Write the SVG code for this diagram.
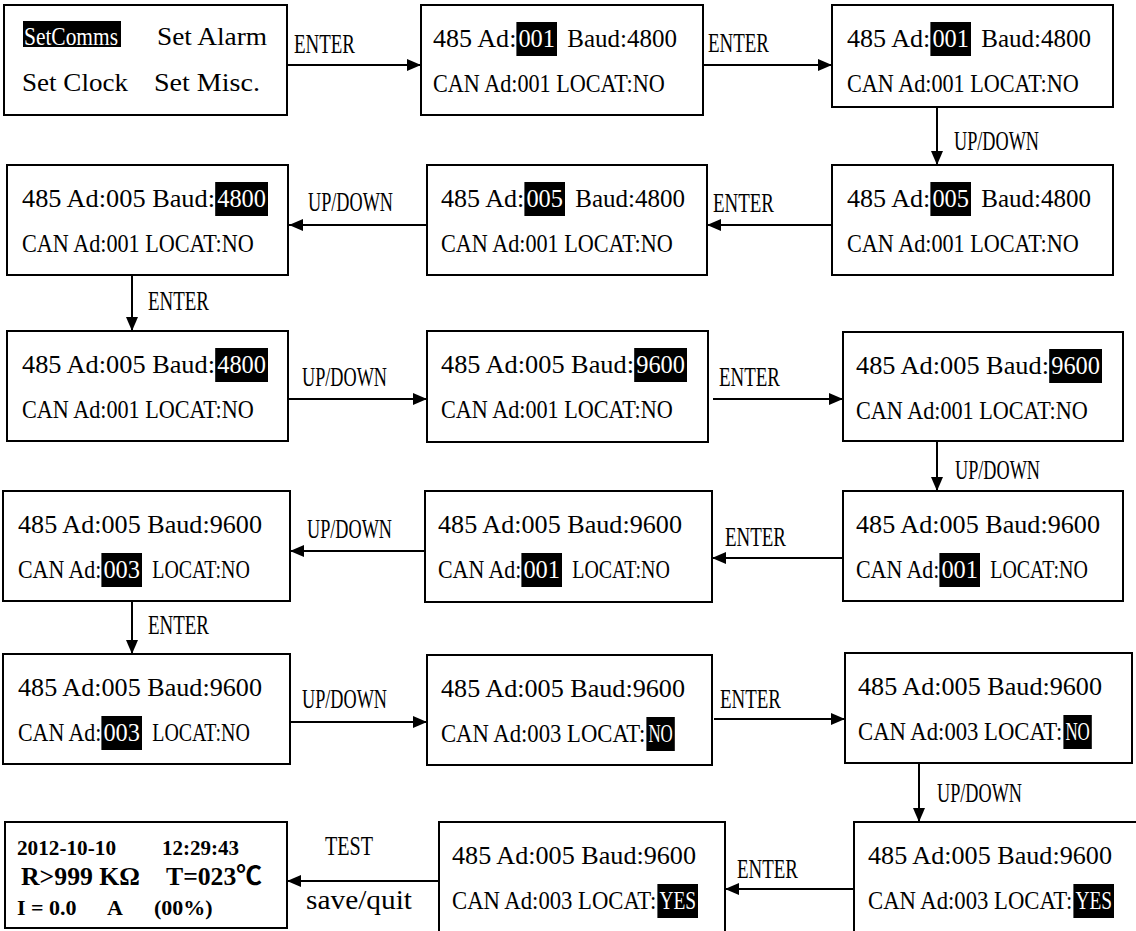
<svg xmlns="http://www.w3.org/2000/svg" width="1136" height="931" viewBox="0 0 1136 931">
<style>
.box{fill:#fff;stroke:#000;stroke-width:2}
.t{font-family:"Liberation Serif",serif;font-size:21.5px;fill:#000}
.m{font-family:"Liberation Serif",serif;font-size:25px;fill:#000}
.w{fill:#fff}
.hl{fill:#000}
.lbl{font-family:"Liberation Serif",serif;font-size:27px;fill:#000}
.b{font-family:"Liberation Serif","Noto Sans CJK SC",serif;font-weight:bold;fill:#000}
.c{stroke:#000;stroke-width:2;fill:none;marker-end:url(#ah)}
</style>
<defs>
<marker id="ah" markerUnits="userSpaceOnUse" markerWidth="14" markerHeight="12" refX="14" refY="6" orient="auto">
<path d="M0,0 L14,6 L0,12 z" fill="#000"/>
</marker>
</defs>
<rect width="1136" height="931" fill="#fff"/>

<g id="connectors">
<line class="c" x1="287" y1="65" x2="421" y2="65"/>
<line class="c" x1="703" y1="65" x2="832" y2="65"/>
<line class="c" x1="937" y1="107" x2="937" y2="165"/>
<line class="c" x1="832" y1="225" x2="707" y2="225"/>
<line class="c" x1="427" y1="225" x2="289" y2="225"/>
<line class="c" x1="132" y1="275" x2="132" y2="331"/>
<line class="c" x1="288" y1="399" x2="427" y2="399"/>
<line class="c" x1="713" y1="399" x2="843" y2="399"/>
<line class="c" x1="937" y1="441" x2="937" y2="491"/>
<line class="c" x1="843" y1="558" x2="712" y2="558"/>
<line class="c" x1="425" y1="551" x2="290" y2="551"/>
<line class="c" x1="132" y1="601" x2="132" y2="654"/>
<line class="c" x1="290" y1="722" x2="427" y2="722"/>
<line class="c" x1="714" y1="719" x2="845" y2="719"/>
<line class="c" x1="919" y1="763" x2="919" y2="822"/>
<line class="c" x1="854" y1="889" x2="725" y2="889"/>
<line class="c" x1="439" y1="881" x2="287" y2="881"/>
<text class="lbl" x="294" y="53" textLength="61" lengthAdjust="spacingAndGlyphs">ENTER</text>
<text class="lbl" x="708" y="52" textLength="61" lengthAdjust="spacingAndGlyphs">ENTER</text>
<text class="lbl" x="954" y="150" textLength="85" lengthAdjust="spacingAndGlyphs">UP/DOWN</text>
<text class="lbl" x="713" y="212" textLength="61" lengthAdjust="spacingAndGlyphs">ENTER</text>
<text class="lbl" x="308" y="211" textLength="85" lengthAdjust="spacingAndGlyphs">UP/DOWN</text>
<text class="lbl" x="148" y="310" textLength="61" lengthAdjust="spacingAndGlyphs">ENTER</text>
<text class="lbl" x="302" y="386" textLength="85" lengthAdjust="spacingAndGlyphs">UP/DOWN</text>
<text class="lbl" x="719" y="386" textLength="61" lengthAdjust="spacingAndGlyphs">ENTER</text>
<text class="lbl" x="955" y="479" textLength="85" lengthAdjust="spacingAndGlyphs">UP/DOWN</text>
<text class="lbl" x="725" y="546" textLength="61" lengthAdjust="spacingAndGlyphs">ENTER</text>
<text class="lbl" x="307" y="538" textLength="85" lengthAdjust="spacingAndGlyphs">UP/DOWN</text>
<text class="lbl" x="148" y="634" textLength="61" lengthAdjust="spacingAndGlyphs">ENTER</text>
<text class="lbl" x="302" y="708" textLength="85" lengthAdjust="spacingAndGlyphs">UP/DOWN</text>
<text class="lbl" x="720" y="708" textLength="61" lengthAdjust="spacingAndGlyphs">ENTER</text>
<text class="lbl" x="937" y="802" textLength="85" lengthAdjust="spacingAndGlyphs">UP/DOWN</text>
<text class="lbl" x="737" y="878" textLength="61" lengthAdjust="spacingAndGlyphs">ENTER</text>
<text class="lbl" x="325" y="855" textLength="48" lengthAdjust="spacingAndGlyphs">TEST</text>
<text class="lbl" x="306" y="909" textLength="106" lengthAdjust="spacingAndGlyphs">save/quit</text>
</g>

<g id="menu">
<rect class="box" x="4" y="5" width="283" height="110"/>
<rect class="hl" x="23" y="21" width="98" height="26"/>
<text class="m w" x="24" y="45" textLength="94" lengthAdjust="spacingAndGlyphs">SetComms</text>
<text class="m" x="157" y="45" textLength="110" lengthAdjust="spacingAndGlyphs">Set Alarm</text>
<text class="m" x="22" y="91" textLength="106" lengthAdjust="spacingAndGlyphs">Set Clock</text>
<text class="m" x="154" y="91" textLength="106" lengthAdjust="spacingAndGlyphs">Set Misc.</text>
</g>

<g id="s1">
<rect class="box" x="421" y="5" width="282" height="110"/>
<rect class="hl" x="516.4" y="22" width="40.6" height="34"/>
<text class="t" transform="translate(0,47) scale(1,1.17)"><tspan x="433" textLength="83.4" lengthAdjust="spacingAndGlyphs">485 Ad:</tspan><tspan class="w" x="518.4" textLength="36.6" lengthAdjust="spacingAndGlyphs">001</tspan><tspan x="567.2" textLength="109.8" lengthAdjust="spacingAndGlyphs">Baud:4800</tspan></text>
<text class="t" transform="translate(0,92) scale(1,1.17)" x="433" textLength="231.8" lengthAdjust="spacingAndGlyphs">CAN Ad:001 LOCAT:NO</text>
</g>

<g id="s2">
<rect class="box" x="832" y="5" width="281" height="102"/>
<rect class="hl" x="930.4" y="22" width="40.6" height="34"/>
<text class="t" transform="translate(0,47) scale(1,1.17)"><tspan x="847" textLength="83.4" lengthAdjust="spacingAndGlyphs">485 Ad:</tspan><tspan class="w" x="932.4" textLength="36.6" lengthAdjust="spacingAndGlyphs">001</tspan><tspan x="981.2" textLength="109.8" lengthAdjust="spacingAndGlyphs">Baud:4800</tspan></text>
<text class="t" transform="translate(0,92) scale(1,1.17)" x="847" textLength="231.8" lengthAdjust="spacingAndGlyphs">CAN Ad:001 LOCAT:NO</text>
</g>

<g id="s3">
<rect class="box" x="832" y="165" width="281" height="110"/>
<rect class="hl" x="930.4" y="182" width="40.6" height="34"/>
<text class="t" transform="translate(0,207) scale(1,1.17)"><tspan x="847" textLength="83.4" lengthAdjust="spacingAndGlyphs">485 Ad:</tspan><tspan class="w" x="932.4" textLength="36.6" lengthAdjust="spacingAndGlyphs">005</tspan><tspan x="981.2" textLength="109.8" lengthAdjust="spacingAndGlyphs">Baud:4800</tspan></text>
<text class="t" transform="translate(0,252) scale(1,1.17)" x="847" textLength="231.8" lengthAdjust="spacingAndGlyphs">CAN Ad:001 LOCAT:NO</text>
</g>

<g id="s4">
<rect class="box" x="427" y="165" width="280" height="110"/>
<rect class="hl" x="524.4" y="182" width="40.6" height="34"/>
<text class="t" transform="translate(0,207) scale(1,1.17)"><tspan x="441" textLength="83.4" lengthAdjust="spacingAndGlyphs">485 Ad:</tspan><tspan class="w" x="526.4" textLength="36.6" lengthAdjust="spacingAndGlyphs">005</tspan><tspan x="575.2" textLength="109.8" lengthAdjust="spacingAndGlyphs">Baud:4800</tspan></text>
<text class="t" transform="translate(0,252) scale(1,1.17)" x="441" textLength="231.8" lengthAdjust="spacingAndGlyphs">CAN Ad:001 LOCAT:NO</text>
</g>

<g id="s5">
<rect class="box" x="7" y="165" width="281" height="110"/>
<rect class="hl" x="215.2" y="182" width="52.8" height="34"/>
<text class="t" transform="translate(0,207) scale(1,1.17)"><tspan x="22" textLength="193" lengthAdjust="spacingAndGlyphs">485 Ad:005 Baud:</tspan><tspan class="w" x="217.2" textLength="48.8" lengthAdjust="spacingAndGlyphs">4800</tspan></text>
<text class="t" transform="translate(0,252) scale(1,1.17)" x="22" textLength="231.8" lengthAdjust="spacingAndGlyphs">CAN Ad:001 LOCAT:NO</text>
</g>

<g id="s6">
<rect class="box" x="7" y="331" width="281" height="110"/>
<rect class="hl" x="215.2" y="348" width="52.8" height="34"/>
<text class="t" transform="translate(0,373) scale(1,1.17)"><tspan x="22" textLength="193" lengthAdjust="spacingAndGlyphs">485 Ad:005 Baud:</tspan><tspan class="w" x="217.2" textLength="48.8" lengthAdjust="spacingAndGlyphs">4800</tspan></text>
<text class="t" transform="translate(0,418) scale(1,1.17)" x="22" textLength="231.8" lengthAdjust="spacingAndGlyphs">CAN Ad:001 LOCAT:NO</text>
</g>

<g id="s7">
<rect class="box" x="427" y="331" width="281" height="111"/>
<rect class="hl" x="634.2" y="348" width="52.8" height="34"/>
<text class="t" transform="translate(0,373) scale(1,1.17)"><tspan x="441" textLength="193" lengthAdjust="spacingAndGlyphs">485 Ad:005 Baud:</tspan><tspan class="w" x="636.2" textLength="48.8" lengthAdjust="spacingAndGlyphs">9600</tspan></text>
<text class="t" transform="translate(0,418) scale(1,1.17)" x="441" textLength="231.8" lengthAdjust="spacingAndGlyphs">CAN Ad:001 LOCAT:NO</text>
</g>

<g id="s8">
<rect class="box" x="843" y="332" width="280" height="109"/>
<rect class="hl" x="1049.2" y="349" width="52.8" height="34"/>
<text class="t" transform="translate(0,374) scale(1,1.17)"><tspan x="856" textLength="193" lengthAdjust="spacingAndGlyphs">485 Ad:005 Baud:</tspan><tspan class="w" x="1051.2" textLength="48.8" lengthAdjust="spacingAndGlyphs">9600</tspan></text>
<text class="t" transform="translate(0,419) scale(1,1.17)" x="856" textLength="231.8" lengthAdjust="spacingAndGlyphs">CAN Ad:001 LOCAT:NO</text>
</g>

<g id="s9">
<rect class="box" x="843" y="491" width="280" height="110"/>
<rect class="hl" x="939.4" y="553" width="40.6" height="34"/>
<text class="t" transform="translate(0,533) scale(1,1.17)" x="856" textLength="244" lengthAdjust="spacingAndGlyphs">485 Ad:005 Baud:9600</text>
<text class="t" transform="translate(0,578) scale(1,1.17)"><tspan x="856" textLength="83.4" lengthAdjust="spacingAndGlyphs">CAN Ad:</tspan><tspan class="w" x="941.4" textLength="36.6" lengthAdjust="spacingAndGlyphs">001</tspan><tspan x="990.2" textLength="97.6" lengthAdjust="spacingAndGlyphs">LOCAT:NO</tspan></text>
</g>

<g id="s10">
<rect class="box" x="425" y="491" width="287" height="111"/>
<rect class="hl" x="521.4" y="553" width="40.6" height="34"/>
<text class="t" transform="translate(0,533) scale(1,1.17)" x="438" textLength="244" lengthAdjust="spacingAndGlyphs">485 Ad:005 Baud:9600</text>
<text class="t" transform="translate(0,578) scale(1,1.17)"><tspan x="438" textLength="83.4" lengthAdjust="spacingAndGlyphs">CAN Ad:</tspan><tspan class="w" x="523.4" textLength="36.6" lengthAdjust="spacingAndGlyphs">001</tspan><tspan x="572.2" textLength="97.6" lengthAdjust="spacingAndGlyphs">LOCAT:NO</tspan></text>
</g>

<g id="s11">
<rect class="box" x="3" y="491" width="287" height="110"/>
<rect class="hl" x="101.4" y="553" width="40.6" height="34"/>
<text class="t" transform="translate(0,533) scale(1,1.17)" x="18" textLength="244" lengthAdjust="spacingAndGlyphs">485 Ad:005 Baud:9600</text>
<text class="t" transform="translate(0,578) scale(1,1.17)"><tspan x="18" textLength="83.4" lengthAdjust="spacingAndGlyphs">CAN Ad:</tspan><tspan class="w" x="103.4" textLength="36.6" lengthAdjust="spacingAndGlyphs">003</tspan><tspan x="152.2" textLength="97.6" lengthAdjust="spacingAndGlyphs">LOCAT:NO</tspan></text>
</g>

<g id="s12">
<rect class="box" x="3" y="654" width="287" height="110"/>
<rect class="hl" x="101.4" y="716" width="40.6" height="34"/>
<text class="t" transform="translate(0,696) scale(1,1.17)" x="18" textLength="244" lengthAdjust="spacingAndGlyphs">485 Ad:005 Baud:9600</text>
<text class="t" transform="translate(0,741) scale(1,1.17)"><tspan x="18" textLength="83.4" lengthAdjust="spacingAndGlyphs">CAN Ad:</tspan><tspan class="w" x="103.4" textLength="36.6" lengthAdjust="spacingAndGlyphs">003</tspan><tspan x="152.2" textLength="97.6" lengthAdjust="spacingAndGlyphs">LOCAT:NO</tspan></text>
</g>

<g id="s13">
<rect class="box" x="427" y="655" width="285" height="110"/>
<rect class="hl" x="646.4" y="717" width="28.4" height="34"/>
<text class="t" transform="translate(0,697) scale(1,1.17)" x="441" textLength="244" lengthAdjust="spacingAndGlyphs">485 Ad:005 Baud:9600</text>
<text class="t" transform="translate(0,742) scale(1,1.17)"><tspan x="441" textLength="204.4" lengthAdjust="spacingAndGlyphs">CAN Ad:003 LOCAT:</tspan><tspan class="w" x="648.4" textLength="24.4" lengthAdjust="spacingAndGlyphs">NO</tspan></text>
</g>

<g id="s14">
<rect class="box" x="845" y="653" width="287" height="110"/>
<rect class="hl" x="1063.4" y="715" width="28.4" height="34"/>
<text class="t" transform="translate(0,695) scale(1,1.17)" x="858" textLength="244" lengthAdjust="spacingAndGlyphs">485 Ad:005 Baud:9600</text>
<text class="t" transform="translate(0,740) scale(1,1.17)"><tspan x="858" textLength="204.4" lengthAdjust="spacingAndGlyphs">CAN Ad:003 LOCAT:</tspan><tspan class="w" x="1065.4" textLength="24.4" lengthAdjust="spacingAndGlyphs">NO</tspan></text>
</g>

<g id="s15">
<rect class="box" x="854" y="822" width="300" height="130"/>
<rect class="hl" x="1073.4" y="884" width="40.6" height="34"/>
<text class="t" transform="translate(0,864) scale(1,1.17)" x="868" textLength="244" lengthAdjust="spacingAndGlyphs">485 Ad:005 Baud:9600</text>
<text class="t" transform="translate(0,909) scale(1,1.17)"><tspan x="868" textLength="204.4" lengthAdjust="spacingAndGlyphs">CAN Ad:003 LOCAT:</tspan><tspan class="w" x="1075.4" textLength="36.6" lengthAdjust="spacingAndGlyphs">YES</tspan></text>
</g>

<g id="s16">
<rect class="box" x="439" y="822" width="286" height="130"/>
<rect class="hl" x="657.4" y="884" width="40.6" height="34"/>
<text class="t" transform="translate(0,864) scale(1,1.17)" x="452" textLength="244" lengthAdjust="spacingAndGlyphs">485 Ad:005 Baud:9600</text>
<text class="t" transform="translate(0,909) scale(1,1.17)"><tspan x="452" textLength="204.4" lengthAdjust="spacingAndGlyphs">CAN Ad:003 LOCAT:</tspan><tspan class="w" x="659.4" textLength="36.6" lengthAdjust="spacingAndGlyphs">YES</tspan></text>
</g>

<g id="test">
<rect class="box" x="5" y="822" width="282" height="106"/>
<text class="b" x="17" y="855" font-size="20" textLength="99" lengthAdjust="spacingAndGlyphs">2012-10-10</text>
<text class="b" x="162" y="855" font-size="20" textLength="77" lengthAdjust="spacingAndGlyphs">12:29:43</text>
<text class="b" x="21" y="885" font-size="26" textLength="119" lengthAdjust="spacingAndGlyphs">R&gt;999 KΩ</text>
<text class="b" x="166" y="885" font-size="26" textLength="96" lengthAdjust="spacingAndGlyphs">T=023℃</text>
<text class="b" y="915" font-size="22"><tspan x="17">I = 0.0</tspan><tspan x="107">A</tspan><tspan x="154">(00%)</tspan></text>
</g>
</svg>
